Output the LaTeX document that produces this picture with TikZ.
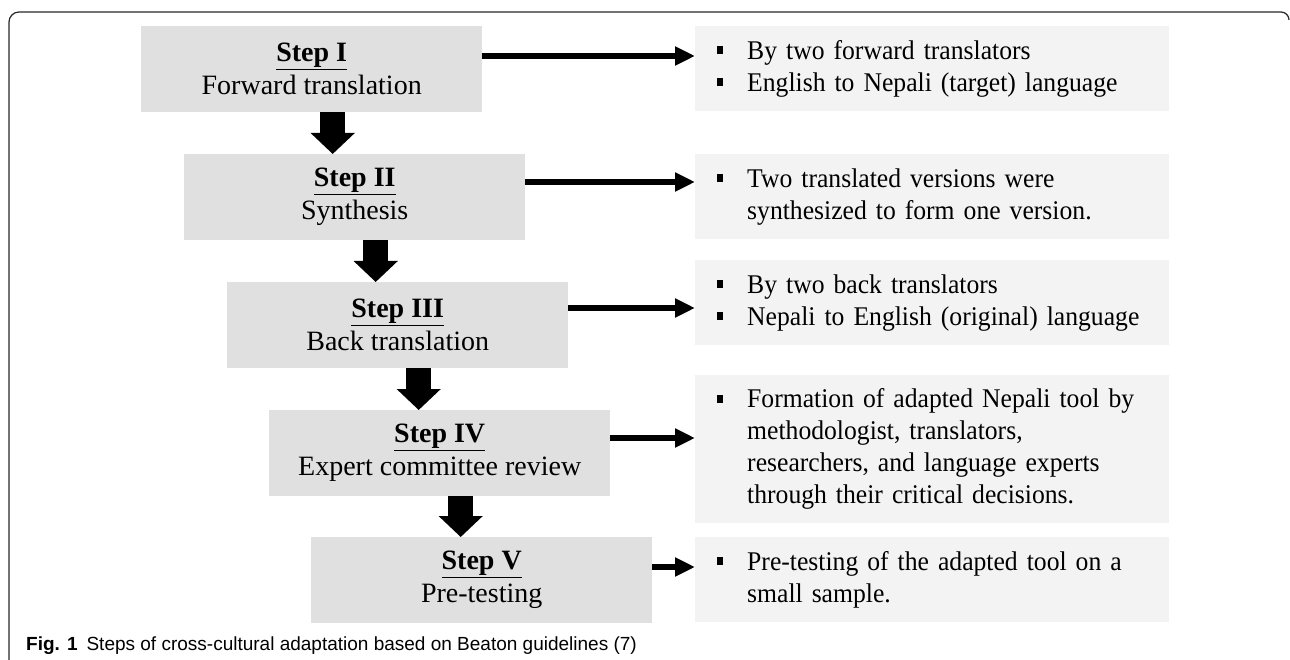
\documentclass[tikz,border=0pt]{standalone}
\usepackage{fontspec}
\setmainfont{Liberation Serif}
\newfontfamily\notefont[FakeStretch=0.95]{Liberation Serif}
\newfontfamily\capfont{Liberation Sans}
\usetikzlibrary{arrows.meta}
\definecolor{stepgray}{HTML}{E0E0E0}
\definecolor{notegray}{HTML}{F3F3F3}
\newcommand\bul{\makebox[30pt][l]{\rule[5pt]{6pt}{8pt}}}
\newcommand\ind{\hspace*{30pt}}
\begin{document}
\begin{tikzpicture}[x=1pt, y=-1pt,
    stepbox/.style={fill=stepgray, minimum width=341pt, minimum height=86pt,
      inner sep=0pt, anchor=north west, align=center,
      font=\fontsize{28}{33}\selectfont},
    notebox/.style={fill=notegray, minimum width=474pt, minimum height=85pt,
      inner xsep=22pt, inner ysep=0pt, text width=430pt, anchor=north west,
      align=left, font=\notefont\fontsize{27}{32}\selectfont},
    downarrow/.style={line width=25pt, -{Triangle[width=43pt,length=21pt]}},
    sidearrow/.style={line width=6pt, -{Triangle[width=18pt,length=20pt]}}]
    \useasboundingbox (0, 0) rectangle (1290, 660);
    % five steps on the left, each with its note on the right
    \node[stepbox] (s1) at (141, 26) {\underline{\textbf{Step I}}\\Forward translation};
    \node[stepbox] (s2) at (184, 154) {\underline{\textbf{Step II}}\\Synthesis};
    \node[stepbox] (s3) at (227, 282) {\underline{\textbf{Step III}}\\Back translation};
    \node[stepbox] (s4) at (269, 410) {\underline{\textbf{Step IV}}\\Expert committee review};
    \node[stepbox] (s5) at (311, 537) {\underline{\textbf{Step V}}\\Pre-testing};
    \node[notebox] (r1) at (695, 26) {\bul By two forward translators\\
      \bul English to Nepali (target) language};
    \node[notebox] (r2) at (695, 154) {\bul Two translated versions were\\
      \ind synthesized to form one version.};
    \node[notebox] (r3) at (695, 260) {\bul By two back translators\\
      \bul Nepali to English (original) language};
    \node[notebox, minimum height=148pt] (r4) at (695, 375) {\bul Formation of adapted Nepali tool by\\
      \ind methodologist, translators,\\
      \ind researchers, and language experts\\
      \ind through their critical decisions.};
    \node[notebox] (r5) at (695, 537) {\bul Pre-testing of the adapted tool on a\\
      \ind small sample.};
    \coordinate (d1) at ([xshift=21pt]s1.south);
    \coordinate (d2) at ([xshift=21pt]s2.south);
    \coordinate (d3) at ([xshift=21pt]s3.south);
    \coordinate (d4) at ([xshift=21pt]s4.south);
    \draw[downarrow] (d1) -- (d1 |- s2.north);
    \draw[downarrow] (d2) -- (d2 |- s3.north);
    \draw[downarrow] (d3) -- (d3 |- s4.north);
    \draw[downarrow] (d4) -- (d4 |- s5.north);
    \coordinate (a1) at ([yshift=-30pt]s1.north east);
    \coordinate (a2) at ([yshift=-28pt]s2.north east);
    \coordinate (a3) at ([yshift=-26pt]s3.north east);
    \coordinate (a4) at ([yshift=-28pt]s4.north east);
    \coordinate (a5) at ([yshift=-30pt]s5.north east);
    \draw[sidearrow] (a1) -- (a1 -| r1.west);
    \draw[sidearrow] (a2) -- (a2 -| r2.west);
    \draw[sidearrow] (a3) -- (a3 -| r3.west);
    \draw[sidearrow] (a4) -- (a4 -| r4.west);
    \draw[sidearrow] (a5) -- (a5 -| r5.west);
    \node[anchor=base west, inner sep=0pt, font=\capfont\fontsize{19}{23}\selectfont] (cap) at (26, 650)
      {\textbf{Fig. 1}\hspace{9pt}Steps of cross-cultural adaptation based on Beaton guidelines (7)};
    \draw[line width=1.2pt, black!85] (9, 660) -- (9, 22) arc[start angle=180, end angle=270, radius=10]
      -- (1281, 12) arc[start angle=270, end angle=360, radius=8];
  \end{tikzpicture}
\end{document}
